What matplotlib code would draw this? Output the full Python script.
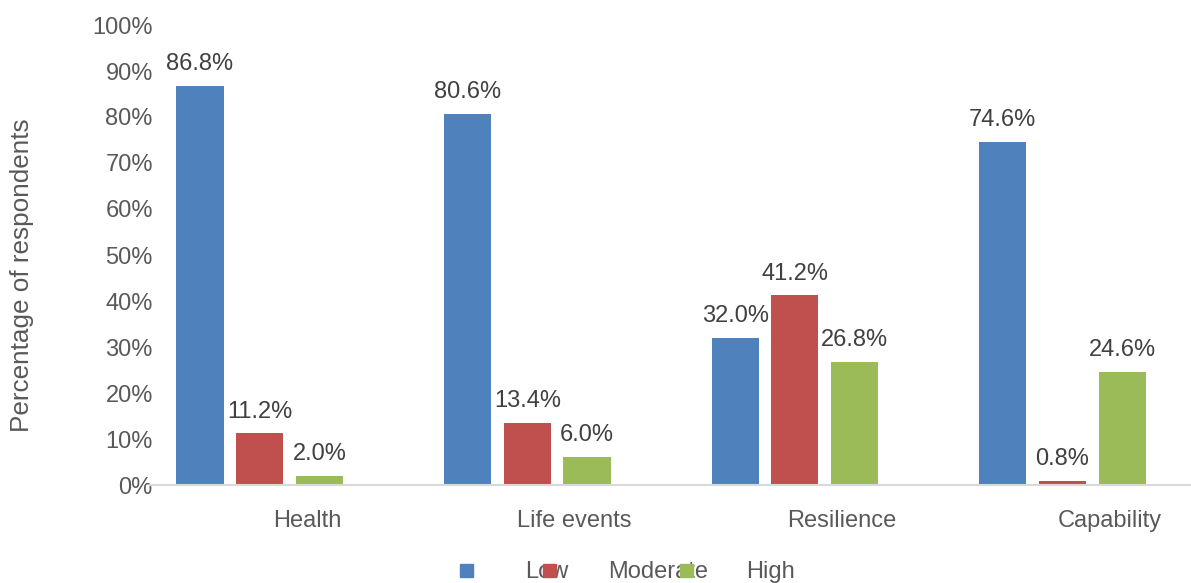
import matplotlib
matplotlib.use("Agg")
import matplotlib.pyplot as plt
from matplotlib.patches import Rectangle
import numpy as np

plt.rcParams['font.family'] = ['Liberation Sans', 'DejaVu Sans']

categories = ["Health", "Life events", "Resilience", "Capability"]
series_names = ["Low", "Moderate", "High"]
low = [86.8, 80.6, 32.0, 74.6]
moderate = [11.2, 13.4, 41.2, 0.8]
high = [2.0, 6.0, 26.8, 24.6]
y_ticks = [0, 10, 20, 30, 40, 50, 60, 70, 80, 90, 100]
y_label = "Percentage of respondents"

colors = ["#4F81BD", "#C0504D", "#9BBB59"]
tick_color = "#595959"
label_color = "#404040"

fig = plt.figure(figsize=(11.91, 5.83), dpi=100)
ax = fig.add_axes([150 / 1191, (583 - 485) / 583, 1 - 150 / 1191, (485 - 25) / 583])

x = np.arange(len(categories))
width = 0.176
step = 0.223
for k, (vals, col) in enumerate(zip([low, moderate, high], colors)):
    pos = x + (k - 1) * step
    bars = ax.bar(pos, vals, width=width, color=col, zorder=2)
    for b, v in zip(bars, vals):
        ax.annotate(f"{v:.1f}%", (b.get_x() + b.get_width() / 2, v),
                    xytext=(0, 11.5), textcoords="offset points",
                    ha="center", va="baseline", fontsize=17, color=label_color)

ax.set_xlim(-0.41, 3.48)
ax.set_ylim(0, 100)
ax.set_yticks(y_ticks)
ax.set_yticklabels([f"{t}%" for t in y_ticks])
ax.set_xticks(x + 0.176)
ax.set_xticklabels(categories)
ax.tick_params(axis="y", length=0, pad=-2, labelsize=17, labelcolor=tick_color)
ax.tick_params(axis="x", length=0, pad=18, labelsize=17, labelcolor=tick_color)
for s in ["top", "right", "left"]:
    ax.spines[s].set_visible(False)
ax.spines["bottom"].set_color("#D9D9D9")
ax.spines["bottom"].set_linewidth(1.5)

fig.text(22 / 1191, 1 - 275 / 583, y_label, rotation=90, ha="center", va="center",
         fontsize=18.8, color=tick_color)

# legend row along the bottom edge; swatches sit on top of the names
W, H = 1191, 583
swatch_x = [460, 543, 680]
text_x = [525, 608, 746]
for sx, tx, col, name in zip(swatch_x, text_x, colors, series_names):
    fig.text(tx / W, 1 - 578 / H, name, ha="left", va="baseline",
             fontsize=17, color=tick_color, zorder=3)
    fig.patches.append(Rectangle((sx / W, 1 - 577 / H), 13 / W, 13 / H,
                                 transform=fig.transFigure, color=col, zorder=4))

fig.savefig("out.png", dpi=100)
